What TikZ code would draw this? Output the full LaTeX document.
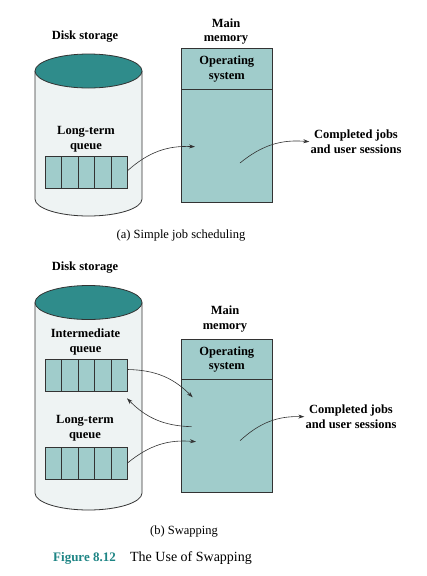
\documentclass[tikz,border=0pt]{standalone}
\usepackage{fontspec}
\setmainfont{Liberation Serif}
\usetikzlibrary{arrows.meta,positioning}
\definecolor{memfill}{HTML}{A0CCCB}
\definecolor{disktop}{HTML}{2F8C8B}
\definecolor{diskbody}{HTML}{EEF3F3}
\definecolor{figteal}{HTML}{1E8585}
\definecolor{edge}{HTML}{333333}
\begin{document}
\begin{tikzpicture}[x=1pt,y=-1pt,
    lbl/.style={font=\fontsize{12.5}{14.5}\selectfont\bfseries, align=center, inner sep=1pt},
    subcap/.style={font=\fontsize{12.5}{14.5}\selectfont, inner sep=1pt},
    cell/.style={draw=edge, fill=memfill, minimum width=16.5pt, minimum height=32pt, inner sep=0pt},
    memory/.style={draw=edge, fill=memfill, minimum width=91.5pt, inner sep=0pt},
    disk/.style={draw=edge, line width=0.8pt},
    flow/.style={-{Stealth[length=6pt,width=4pt]}, draw=edge, line width=0.6pt, bend left=22}]
  \useasboundingbox[fill=white] (0,0) rectangle (427,576);

  % (a) simple job scheduling
  \node[lbl] (diska) at (85,37) {Disk storage};
  \filldraw[disk, fill=diskbody] (35,71) -- (35,199)
    arc[start angle=180, end angle=360, x radius=53.5pt, y radius=17pt] -- (142,71);
  \filldraw[disk, fill=disktop] (88.5,71) ellipse [x radius=53.5pt, y radius=17pt];
  \node[lbl] (lqla) at (86,139) {Long-term\\queue};
  \foreach \i in {0,...,4}
    \node[cell] (lqa\i) at (53.3+16.5*\i,172.5) {};
  \node[lbl] (mmla) at (226,31.7) {Main\\memory};
  \node[memory, minimum height=153.7pt] (mema) at (226.8,125.2) {};
  \node[memory, lbl, minimum height=41pt, anchor=north] (osa) at (mema.north) {Operating\\system};
  \coordinate (ina) at (195,146.7);
  \coordinate (outa) at (240,163);
  \node[lbl] (donea) at (356,141.7) {Completed jobs\\and user sessions};
  \draw[flow] ([yshift=2pt]lqa4.east) to (ina);
  \draw[flow] (outa) to (donea.west);
  \node[subcap] (capa) at (181,236) {(a) Simple job scheduling};

  % (b) swapping
  \node[lbl] (diskb) at (85,267.7) {Disk storage};
  \filldraw[disk, fill=diskbody] (35,302.5) -- (35,493)
    arc[start angle=180, end angle=360, x radius=53.5pt, y radius=17pt] -- (142,302.5);
  \filldraw[disk, fill=disktop] (88.5,302.5) ellipse [x radius=53.5pt, y radius=17pt];
  \node[lbl] (iqlb) at (85.5,342) {Intermediate\\queue};
  \foreach \i in {0,...,4}
    \node[cell] (iqb\i) at (53.3+16.5*\i,375.5) {};
  \node[lbl] (lqlb) at (85,428) {Long-term\\queue};
  \foreach \i in {0,...,4}
    \node[cell] (lqb\i) at (53.3+16.5*\i,462.8) {};
  \node[lbl] (mmlb) at (225,319) {Main\\memory};
  \node[memory, minimum height=153pt] (memb) at (226.8,415.8) {};
  \node[memory, lbl, minimum height=40pt, anchor=north] (osb) at (memb.north) {Operating\\system};
  \coordinate (inb) at (192.7,397.3);
  \coordinate (backb) at (191.7,426.7);
  \coordinate (retb) at (127,398.3);
  \coordinate (inc) at (196,441.7);
  \coordinate (outb) at (240,440.7);
  \node[lbl] (doneb) at (351,416.7) {Completed jobs\\and user sessions};
  \draw[flow] ([yshift=6pt]iqb4.east) to (inb);
  \draw[flow] (backb) to (retb);
  \draw[flow] (lqb4.east) to (inc);
  \draw[flow] (outb) to (doneb.west);
  \node[subcap] (capb) at (184,531.7) {(b) Swapping};

  \node[anchor=base west, inner sep=0pt, font=\fontsize{13}{15}\selectfont\bfseries, text=figteal] (fig) at (53,561) {Figure 8.12};
  \node[base right=14pt of fig, inner sep=0pt, font=\fontsize{14}{16}\selectfont] (title) {The Use of Swapping};
\end{tikzpicture}
\end{document}
